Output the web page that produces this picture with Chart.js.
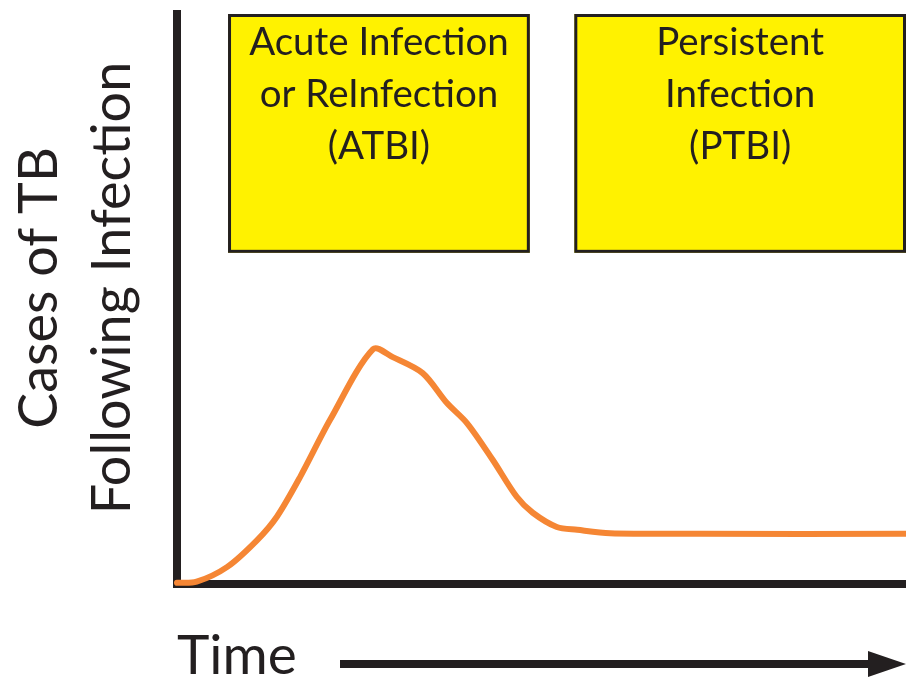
<!DOCTYPE html>
<html><head><meta charset="utf-8">
<script src="https://cdn.jsdelivr.net/npm/chart.js@4.4.1/dist/chart.umd.min.js"></script>
<style>html,body{margin:0;padding:0;background:#fff;} canvas{display:block;}</style>
</head><body>
<canvas id="c" width="906" height="681"></canvas>
<script>
// Time (0–100, arbitrary units) and cases of TB (0–100, arbitrary units)
const timeValues = [0, 2.7, 6.9, 11.0, 13.7, 16.9, 21.0, 26.9, 29.6, 33.7, 37.0, 39.8, 43.3, 46.6, 48.8, 52.1, 54.9, 59.4, 71.7, 100];
const caseValues = [0.2, 0.4, 3.0, 7.7, 11.8, 18.8, 28.8, 41.2, 39.8, 37.0, 31.8, 28.2, 21.8, 15.3, 12.5, 10.0, 9.5, 8.9, 8.8, 8.8];
const yAxisLines = ['Cases of TB', 'Following Infection'];
const xAxisTitle = 'Time';
const phaseNames = [['Acute Infection', 'or ReInfection', '(ATBI)'], ['Persistent', 'Infection', '(PTBI)']];
const phaseStart = [7.0, 54.5];
const phaseEnd = [48.4, 100];
const phaseBoxBottom = 58.1;

const INK = '#231F20';
const FONT = 'Lato, "Open Sans", sans-serif';

const annotations = {
  id: 'annotations',
  beforeDatasetsDraw(chart) {
    const {ctx, scales: {x, y}} = chart;
    ctx.save();
    phaseNames.forEach((lines, i) => {
      const x1 = x.getPixelForValue(phaseStart[i]);
      const x2 = x.getPixelForValue(phaseEnd[i]);
      const y1 = y.getPixelForValue(100);
      const y2 = y.getPixelForValue(phaseBoxBottom);
      ctx.fillStyle = '#FFF200';
      ctx.fillRect(x1, y1, x2 - x1, y2 - y1);
      ctx.lineWidth = 3;
      ctx.strokeStyle = INK;
      ctx.strokeRect(x1 + 1.5, y1 + 1.5, x2 - x1 - 3, y2 - y1 - 3);
      ctx.fillStyle = INK;
      ctx.font = '38.5px ' + FONT;
      ctx.textAlign = 'center';
      ctx.textBaseline = 'middle';
      lines.forEach((t, j) => ctx.fillText(t, (x1 + x2) / 2, y1 + 29 + j * 52));
    });
    ctx.restore();
  },
  afterDraw(chart) {
    const {ctx} = chart;
    ctx.save();
    // rotated y-axis label
    ctx.translate(0, 288);
    ctx.rotate(-Math.PI / 2);
    ctx.fillStyle = INK;
    ctx.font = '54px ' + FONT;
    ctx.textAlign = 'center';
    ctx.textBaseline = 'middle';
    ctx.fillText(yAxisLines[0], 0, 40);
    ctx.fillText(yAxisLines[1], 0, 113);
    ctx.restore();
    // time arrow
    ctx.save();
    ctx.strokeStyle = INK;
    ctx.fillStyle = INK;
    ctx.lineWidth = 8;
    ctx.beginPath();
    ctx.moveTo(340, 664);
    ctx.lineTo(872, 664);
    ctx.stroke();
    ctx.beginPath();
    ctx.moveTo(868, 651);
    ctx.lineTo(906, 664);
    ctx.lineTo(868, 677);
    ctx.closePath();
    ctx.fill();
    ctx.restore();
  }
};

new Chart(document.getElementById('c'), {
  type: 'line',
  data: {
    datasets: [{
      data: timeValues.map((t, i) => ({x: t, y: caseValues[i]})),
      borderColor: '#F58634',
      borderWidth: 6,
      borderCapStyle: 'round',
      borderJoinStyle: 'round',
      pointRadius: 0,
      tension: 0.3,
      fill: false,
      clip: false
    }]
  },
  options: {
    responsive: false,
    animation: false,
    events: [],
    layout: {autoPadding: false, padding: {top: 14, right: 0, bottom: 0, left: 0}},
    plugins: {legend: {display: false}, tooltip: {enabled: false}},
    scales: {
      x: {
        type: 'linear', min: 0, max: 100,
        grid: {display: false},
        ticks: {display: false},
        border: {display: true, color: INK, width: 8},
        title: {display: true, text: xAxisTitle, align: 'start', color: INK,
                font: {family: FONT, size: 55, lineHeight: '50px'}, padding: {top: 0, bottom: 0}},
        afterFit(scale) { scale.height = 97; }
      },
      y: {
        type: 'linear', min: 0, max: 100,
        grid: {display: false},
        ticks: {display: false},
        border: {display: true, color: INK, width: 8},
        afterFit(scale) { scale.width = 177; }
      }
    }
  },
  plugins: [annotations]
});
</script>
</body></html>
